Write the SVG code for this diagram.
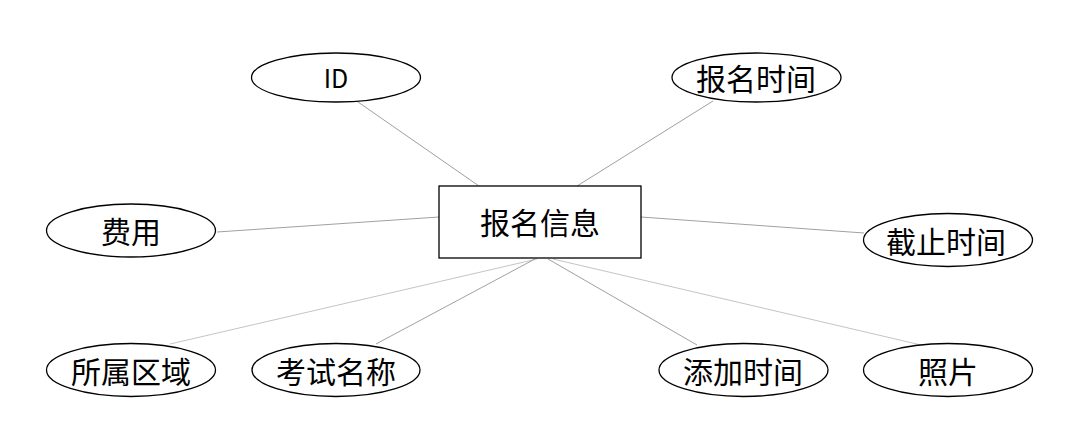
<svg xmlns="http://www.w3.org/2000/svg" width="1087" height="440" viewBox="0 0 1087 440">
<style>
.e{fill:#fff;stroke:#000;stroke-width:1.3}
.r{fill:#fff;stroke:#000;stroke-width:1.3}
.t{font-family:"Noto Sans CJK SC","Liberation Sans",sans-serif;font-size:30px;fill:#000;text-anchor:middle;dominant-baseline:central}
.l{stroke:#a0a0a0;stroke-width:1;fill:none}
.l2{stroke:#c4c4c4;stroke-width:1;fill:none}
</style>
<rect width="1087" height="440" fill="#fff"/>
<g id="connectors">
<line class="l" x1="358" y1="102" x2="479" y2="186"/>
<line class="l" x1="713" y1="101" x2="577" y2="186"/>
<line class="l" x1="217" y1="232" x2="439" y2="217"/>
<line class="l" x1="641" y1="217" x2="864" y2="233"/>
<line class="l2" x1="170" y1="344" x2="537" y2="259"/>
<line class="l" x1="376" y1="344" x2="535" y2="259"/>
<line class="l" x1="697" y1="345" x2="548" y2="259"/>
<line class="l2" x1="921" y1="345" x2="553" y2="259"/>
</g>
<g id="n-main"><rect class="r" x="439" y="186" width="202" height="72"/><text class="t" x="540" y="221">报名信息</text></g>
<g id="n-id"><ellipse class="e" cx="336" cy="77.5" rx="84.5" ry="24.5"/><text class="t" x="336" y="77" style="font-size:25px">ID</text></g>
<g id="n-bmsj"><ellipse class="e" cx="756.5" cy="77.5" rx="84.5" ry="24.5"/><text class="t" x="756" y="77">报名时间</text></g>
<g id="n-fy"><ellipse class="e" cx="131" cy="230.5" rx="84.5" ry="26.5"/><text class="t" x="131" y="230">费用</text></g>
<g id="n-jzsj"><ellipse class="e" cx="948" cy="240" rx="84.5" ry="26.5"/><text class="t" x="946" y="240">截止时间</text></g>
<g id="n-ssqy"><ellipse class="e" cx="131" cy="370" rx="84.5" ry="26.5"/><text class="t" x="131" y="370">所属区域</text></g>
<g id="n-ksmc"><ellipse class="e" cx="336" cy="370" rx="84" ry="26.5"/><text class="t" x="336" y="370">考试名称</text></g>
<g id="n-tjsj"><ellipse class="e" cx="743.5" cy="370" rx="84.5" ry="26.5"/><text class="t" x="743" y="370">添加时间</text></g>
<g id="n-zp"><ellipse class="e" cx="948" cy="370" rx="84.5" ry="26.5"/><text class="t" x="948" y="370">照片</text></g>
</svg>
